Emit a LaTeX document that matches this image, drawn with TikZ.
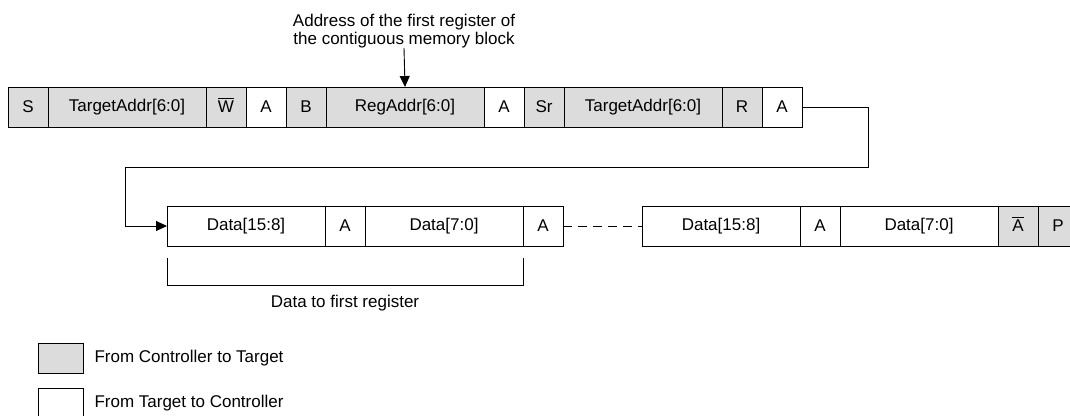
\documentclass[tikz,border=0pt]{standalone}
\usepackage{fontspec}
\setmainfont{Liberation Sans}
\definecolor{HostGray}{RGB}{220,220,220}
\usetikzlibrary{arrows.meta, positioning, calc}
\newcommand{\barred}[1]{\leavevmode\setbox0\hbox{#1}\rlap{\smash{\raisebox{\dimexpr\ht0+2.5pt\relax}{\rule{\wd0}{1.1pt}}}}\box0}

\begin{document}
\begin{tikzpicture}[x=1pt,y=-1pt,
	font=\fontsize{17}{18}\selectfont,
	cell/.style={draw,line width=0.9pt,minimum height=40pt,inner sep=0pt,outer sep=0pt,anchor=west},
	narrow/.style={cell,minimum width=40pt},
	wide/.style={cell,minimum width=158pt},
	ctl/.style={fill=HostGray},
	conn/.style={line width=0.9pt,-{Triangle[length=11pt,width=10pt]}}]
\useasboundingbox (0,0) rectangle (1070,415);
\node[narrow,ctl] (s) at (8,107) {S};
\node[wide,ctl,right=0pt of s] (ta1) {TargetAddr[6:0]};
\node[narrow,ctl,right=0pt of ta1] (w) {\barred{W}};
\node[narrow,right=0pt of w] (a1) {A};
\node[narrow,ctl,right=0pt of a1] (b) {B};
\node[wide,ctl,right=0pt of b] (rega) {RegAddr[6:0]};
\node[narrow,right=0pt of rega] (a2) {A};
\node[narrow,ctl,right=0pt of a2] (sr) {Sr};
\node[wide,ctl,right=0pt of sr] (ta2) {TargetAddr[6:0]};
\node[narrow,ctl,right=0pt of ta2] (r) {R};
\node[narrow,right=0pt of r] (a3) {A};
\node[wide] (d1) at (167,226) {Data[15:8]};
\node[narrow,right=0pt of d1] (a4) {A};
\node[wide,right=0pt of a4] (d2) {Data[7:0]};
\node[narrow,right=0pt of d2] (a5) {A};
\node[wide] (d3) at (642,226) {Data[15:8]};
\node[narrow,right=0pt of d3] (a6) {A};
\node[wide,right=0pt of a6] (d4) {Data[7:0]};
\node[narrow,ctl,right=0pt of d4] (nack) {\barred{A}};
\node[narrow,ctl,right=0pt of nack] (p) {P};
\node[align=center,inner sep=0pt,anchor=south] (note) at (404,48) {Address of the first register of\\the contiguous memory block};
\draw[conn] (note.south) -- (rega.north);
\coordinate (turn) at (125,167);
\draw[conn] (a3.east) -- ++(66,0) |- (turn) |- (d1.west);
\draw[line width=0.9pt,dash pattern=on 9pt off 6pt] (a5.east) -- (d3.west);
\coordinate (bl) at ($(d1.south west)+(0,12)$);
\coordinate (br) at ($(d2.south east)+(0,12)$);
\draw[line width=0.9pt] (bl) -- ++(0,27) -| (br);
\node (bracelabel) at ($(bl)!0.5!(br)+(0,45)$) {Data to first register};
\node[cell,ctl,minimum width=45pt,minimum height=30pt] (keyctl) at (38,358) {};
\node[right=8pt of keyctl] (keyctltext) {From Controller to Target};
\node[cell,minimum width=45pt,minimum height=30pt] (keytgt) at (38,403) {};
\node[right=8pt of keytgt] (keytgttext) {From Target to Controller};
\end{tikzpicture}
\end{document}
